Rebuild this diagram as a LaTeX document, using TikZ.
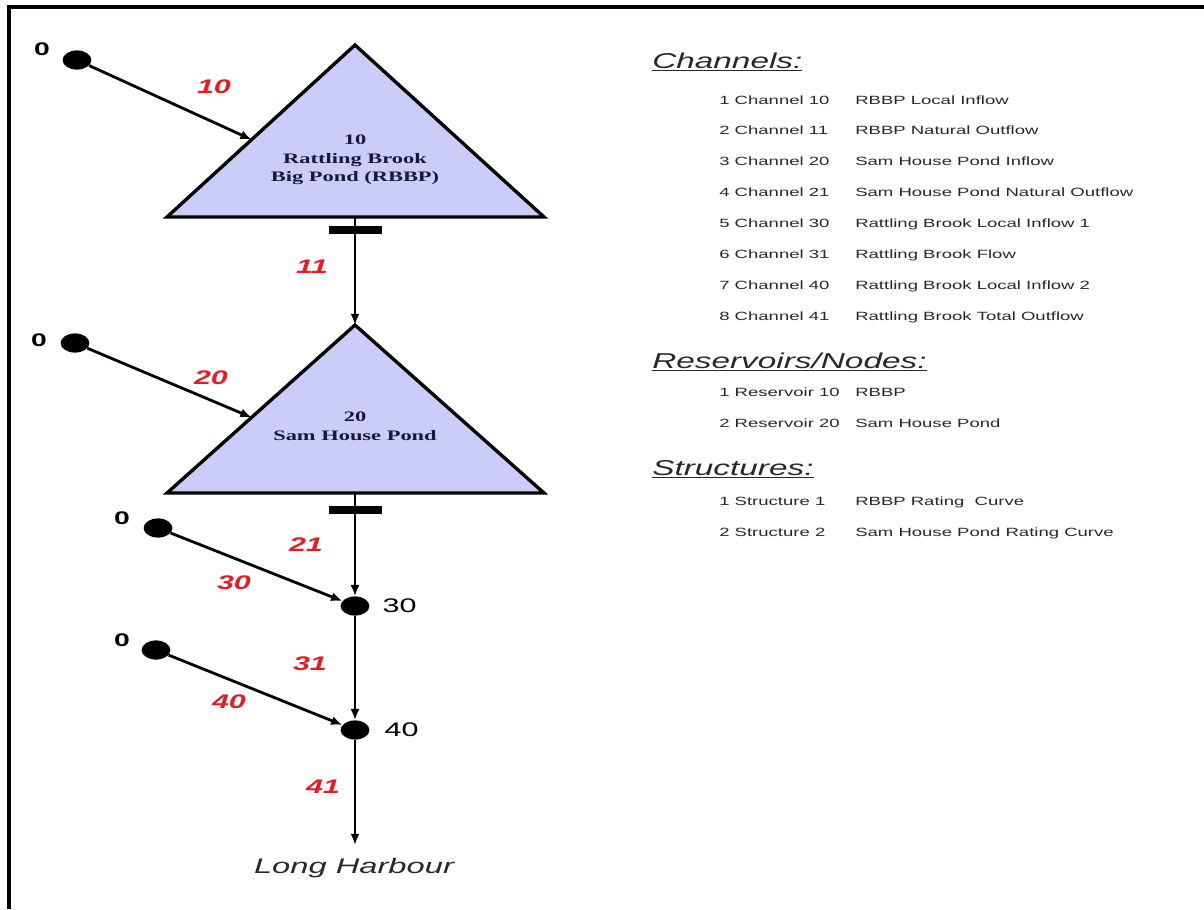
\documentclass[tikz,border=0pt]{standalone}
\usepackage{fontspec}
\usepackage{xcolor}
\usetikzlibrary{positioning,calc,arrows.meta,shapes.geometric}

\newfontfamily\widesans[FakeStretch=1.55]{Liberation Sans}
\newfontfamily\wideserif[FakeStretch=1.55]{Liberation Serif}

\definecolor{pondfill}{RGB}{204,204,248}
\definecolor{pondink}{RGB}{25,25,55}
\definecolor{chanred}{RGB}{224,30,36}
\definecolor{legendink}{RGB}{40,40,40}

\tikzset{
	flow/.style={line width=2pt, -{Latex[length=8pt,width=6.5pt]}},
	blob/.style={ellipse, fill=black, minimum width=0.72cm, minimum height=0.48cm, inner sep=0pt},
	pond/.style={fill=pondfill, draw=black, line width=2.4pt, line join=miter},
	weir/.style={line width=5pt},
	chan/.style={text=chanred, font=\widesans\bfseries\itshape\fontsize{14}{14}\selectfont},
	zero/.style={font=\widesans\bfseries\fontsize{13}{13}\selectfont},
	junction/.style={font=\widesans\fontsize{14}{14}\selectfont},
	harbour/.style={font=\widesans\itshape\fontsize{15}{15}\selectfont, text=legendink},
	pondtext/.style={align=center, text=pondink, font=\wideserif\bfseries\fontsize{10.3}{13.2}\selectfont},
	heading/.style={anchor=base west, inner sep=0pt, text=legendink, font=\widesans\itshape\fontsize{15.3}{16}\selectfont},
	entry/.style={anchor=base west, inner sep=0pt, text=legendink, font=\widesans\fontsize{8.5}{9}\selectfont},
}

\begin{document}
\begin{tikzpicture}[x=0.025cm, y=-0.025cm]
		\useasboundingbox (0,0) rectangle (1204,909);

		% frame, top and left side only
		\draw[line width=2.9pt] (8,7) -- (1204,7);
		\draw[line width=3pt] (9,5) -- (9,909);

		% reservoir 10
		\coordinate (r10top) at (355,45);
		\coordinate (r10left) at (167,217);
		\coordinate (r10right) at (544,217);
		\draw[pond] (r10top) -- (r10right) -- (r10left) -- cycle;
		\node[pondtext] (r10txt) at (355,160) {10\\Rattling Brook\\Big Pond (RBBP)};
		\coordinate (r10in) at ($(r10left)!0.45!(r10top)$);
		\coordinate (r10out) at (355,217);

		% reservoir 20
		\coordinate (r20top) at (355,325);
		\coordinate (r20left) at (167,493);
		\coordinate (r20right) at (544,493);
		\draw[pond] (r20top) -- (r20right) -- (r20left) -- cycle;
		\node[pondtext] (r20txt) at (355,426) {20\\Sam House Pond};
		\coordinate (r20in) at ($(r20left)!0.45!(r20top)$);
		\coordinate (r20out) at (355,493);

		% structures (weirs) under the ponds
		\path (r10out) ++(0,13) coordinate (w1);
		\path (r20out) ++(0,17) coordinate (w2);
		\draw[weir] ($(w1)+(-26,0)$) -- ($(w1)+(27,0)$);
		\draw[weir] ($(w2)+(-26,0)$) -- ($(w2)+(27,0)$);

		% junctions and outlet
		\node[blob] (n30) at (355,606) {};
		\node[blob] (n40) at (355,730) {};
		\node[junction, right=0.2cm of n30] (n30lbl) {30};
		\node[junction, right=0.25cm of n40] (n40lbl) {40};
		\coordinate (sea) at (355,845);
		\node[harbour] (lh) at (354,868) {Long Harbour};

		% local inflows
		\node[blob] (s10) at (77,60) {};
		\node[blob] (s20) at (75,343) {};
		\node[blob] (s30) at (158,528) {};
		\node[blob] (s40) at (156,650) {};
		\node[zero] (z10) at (42,49) {0};
		\node[zero] (z20) at (39,340) {0};
		\node[zero] (z30) at (122,518) {0};
		\node[zero] (z40) at (122,640) {0};

		% channels
		\draw[flow] (s10) -- (r10in);
		\draw[flow] (r10out) -- (r20top);
		\draw[flow] (s20) -- (r20in);
		\draw[flow] (r20out) -- (n30);
		\draw[flow] (s30) -- (n30);
		\draw[flow] (n30) -- (n40);
		\draw[flow] (s40) -- (n40);
		\draw[flow] (n40) -- (sea);

		\node[chan] (c10) at (214,87) {10};
		\node[chan] (c11) at (312,267) {11};
		\node[chan] (c20) at (211,378) {20};
		\node[chan] (c21) at (306,545) {21};
		\node[chan] (c30) at (234,583) {30};
		\node[chan] (c31) at (310,664) {31};
		\node[chan] (c40) at (229,702) {40};
		\node[chan] (c41) at (323,787) {41};

		% legend
		\node[heading] (hchan) at (652,68) {\underline{Channels:}};
		\foreach \i/\ch/\desc in {1/10/RBBP Local Inflow, 2/11/RBBP Natural Outflow,
				3/20/Sam House Pond Inflow, 4/21/Sam House Pond Natural Outflow,
				5/30/Rattling Brook Local Inflow 1, 6/31/Rattling Brook Flow,
				7/40/Rattling Brook Local Inflow 2, 8/41/Rattling Brook Total Outflow} {
			\node[entry] (ch\i) at (719,{104+30.9*(\i-1)}) {\i\ Channel \ch};
			\node[entry] (chd\i) at (855,{104+30.9*(\i-1)}) {\desc};
		}

		\node[heading] (hres) at (652,368) {\underline{Reservoirs/Nodes:}};
		\node[entry] (res1) at (719,396) {1 Reservoir 10};
		\node[entry] (resd1) at (855,396) {RBBP};
		\node[entry] (res2) at (719,427) {2 Reservoir 20};
		\node[entry] (resd2) at (855,427) {Sam House Pond};

		\node[heading] (hstr) at (652,475) {\underline{Structures:}};
		\node[entry] (str1) at (719,505) {1 Structure 1};
		\node[entry] (strd1) at (855,505) {RBBP Rating~~Curve};
		\node[entry] (str2) at (719,536) {2 Structure 2};
		\node[entry] (strd2) at (855,536) {Sam House Pond Rating Curve};
	\end{tikzpicture}
\end{document}
